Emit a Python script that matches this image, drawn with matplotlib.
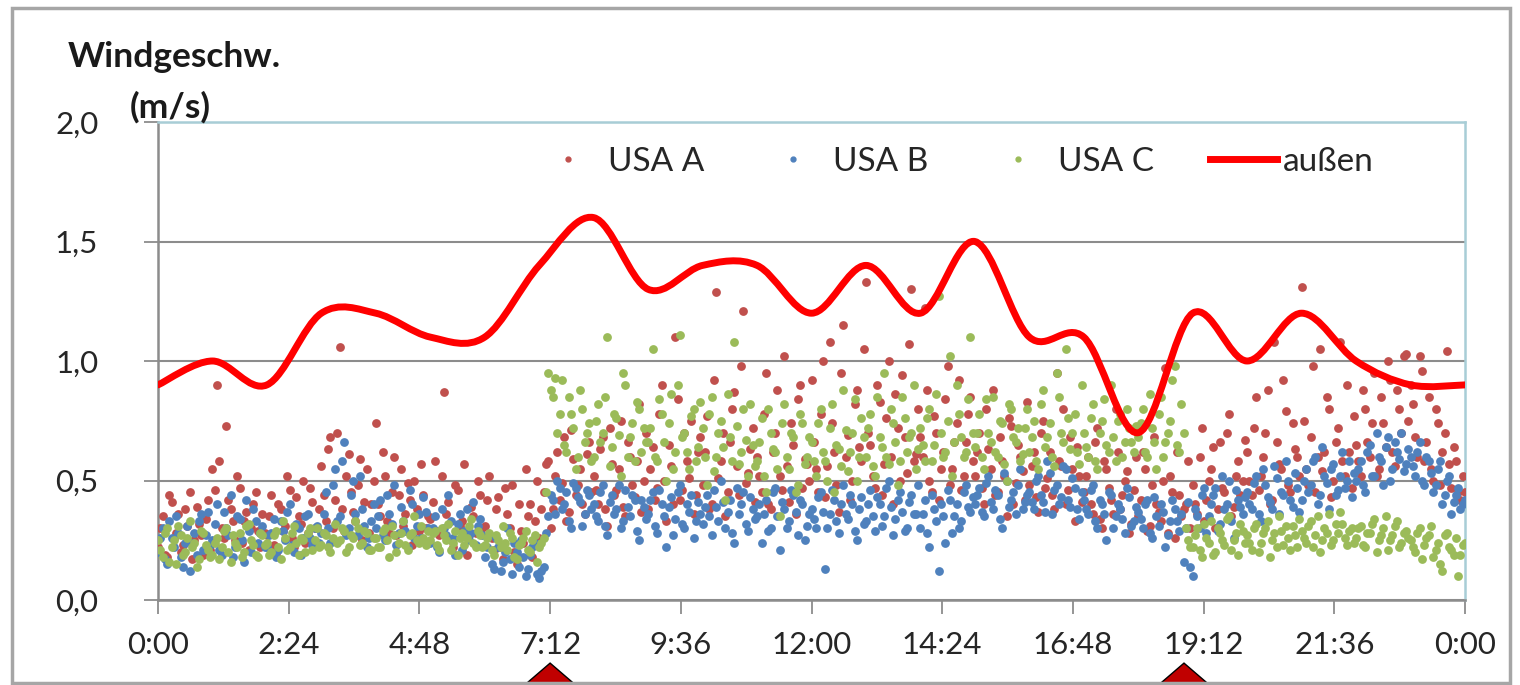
import numpy as np
import matplotlib
matplotlib.use("Agg")
import matplotlib.pyplot as plt
from matplotlib.path import Path
from matplotlib.patches import PathPatch, Polygon, Rectangle
from matplotlib.lines import Line2D

plt.rcParams["font.family"] = ["Lato", "DejaVu Sans"]

# 5-minute samples, 0:00 .. 24:00 (one row per hour)
usa_a = [
    0.22, 0.35, 0.18, 0.41, 0.28, 0.20, 0.38, 0.45, 0.25, 0.32, 0.19, 0.42,
    0.55, 0.90, 0.30, 0.73, 0.38, 0.25, 0.47, 0.33, 0.21, 0.40, 0.29, 0.36,
    0.27, 0.44, 0.19, 0.38, 0.31, 0.46, 0.22, 0.35, 0.50, 0.28, 0.41, 0.24,
    0.56, 0.33, 0.68, 0.42, 1.06, 0.29, 0.61, 0.37, 0.48, 0.25, 0.55, 0.40,
    0.74, 0.35, 0.52, 0.28, 0.60, 0.44, 0.31, 0.49, 0.23, 0.38, 0.57, 0.30,
    0.34, 0.58, 0.27, 0.87, 0.41, 0.22, 0.46, 0.33, 0.19, 0.39, 0.28, 0.44,
    0.31, 0.52, 0.21, 0.43, 0.17, 0.36, 0.48, 0.15, 0.29, 0.55, 0.40, 0.33,
    0.26, 0.45, 0.58, 0.38, 0.62, 0.49, 0.33, 0.71, 0.44, 0.55, 0.36, 0.66,
    0.52, 0.40, 0.68, 0.31, 0.57, 0.46, 0.75, 0.35, 0.60, 0.43, 0.82, 0.50,
    0.38, 0.64, 0.47, 0.90, 0.33, 0.56, 1.10, 0.42, 0.70, 0.51, 0.36, 0.62,
    0.48, 0.77, 0.40, 1.29, 0.58, 0.35, 0.66, 0.87, 0.44, 1.21, 0.53, 0.72,
    0.60, 0.45, 0.95, 0.38, 0.70, 0.52, 1.02, 0.41, 0.65, 0.84, 0.47, 0.57,
    0.92, 0.55, 0.78, 0.43, 1.08, 0.62, 0.37, 1.15, 0.69, 0.50, 0.88, 0.58,
    1.33, 0.65, 0.47, 0.83, 0.57, 1.00, 0.40, 0.72, 0.94, 0.53, 1.30, 0.61,
    0.68, 1.22, 0.50, 0.77, 0.42, 0.62, 0.98, 0.55, 0.74, 0.46, 0.66, 0.85,
    0.52, 0.70, 0.40, 0.63, 0.88, 0.45, 0.58, 0.35, 0.73, 0.49, 0.60, 0.42,
    0.48, 0.62, 0.37, 0.75, 0.51, 0.44, 0.95, 0.56, 0.40, 0.68, 0.33, 0.52,
    0.45, 0.60, 0.36, 0.72, 0.30, 0.55, 0.42, 0.80, 0.38, 0.50, 0.28, 0.46,
    0.35, 0.62, 0.29, 0.48, 0.40, 0.33, 0.97, 0.52, 0.26, 0.44, 0.38, 0.58,
    0.48, 0.36, 0.72, 0.42, 0.55, 0.30, 0.66, 0.45, 0.78, 0.39, 0.58, 0.50,
    0.62, 0.44, 0.85, 0.52, 0.70, 0.40, 1.08, 0.57, 0.92, 0.48, 0.74, 0.60,
    1.31, 0.55, 0.68, 0.45, 1.05, 0.62, 0.80, 0.50, 0.72, 0.58, 0.90, 0.47,
    0.65, 0.52, 0.80, 0.60, 0.95, 0.55, 0.74, 1.00, 0.62, 0.88, 0.70, 1.03,
    0.90, 0.68, 1.02, 0.58, 0.85, 0.50, 0.74, 0.62, 1.04, 0.47, 0.58, 0.42,
    0.45,
]
usa_b = [
    0.20, 0.30, 0.15, 0.26, 0.35, 0.18, 0.24, 0.12, 0.28, 0.33, 0.21, 0.37,
    0.25, 0.40, 0.19, 0.30, 0.44, 0.22, 0.34, 0.16, 0.29, 0.38, 0.24, 0.31,
    0.22, 0.28, 0.18, 0.33, 0.25, 0.40, 0.20, 0.30, 0.26, 0.36, 0.23, 0.31,
    0.28, 0.45, 0.24, 0.55, 0.35, 0.66, 0.30, 0.50, 0.27, 0.38, 0.22, 0.33,
    0.30, 0.42, 0.25, 0.36, 0.48, 0.28, 0.33, 0.22, 0.40, 0.31, 0.26, 0.37,
    0.24, 0.35, 0.20, 0.30, 0.44, 0.26, 0.32, 0.21, 0.38, 0.28, 0.23, 0.34,
    0.18, 0.27, 0.13, 0.22, 0.16, 0.30, 0.11, 0.20, 0.25, 0.10, 0.19, 0.24,
    0.09, 0.14, 0.35, 0.42, 0.50, 0.38, 0.45, 0.30, 0.47, 0.41, 0.36, 0.44,
    0.40, 0.33, 0.48, 0.27, 0.44, 0.38, 0.30, 0.46, 0.35, 0.42, 0.25, 0.39,
    0.36, 0.45, 0.28, 0.40, 0.22, 0.43, 0.34, 0.48, 0.30, 0.37, 0.26, 0.41,
    0.32, 0.44, 0.27, 0.39, 0.50, 0.30, 0.42, 0.24, 0.36, 0.45, 0.29, 0.38,
    0.35, 0.24, 0.42, 0.30, 0.47, 0.21, 0.38, 0.33, 0.44, 0.27, 0.40, 0.31,
    0.38, 0.30, 0.45, 0.13, 0.36, 0.42, 0.28, 0.48, 0.34, 0.40, 0.25, 0.43,
    0.33, 0.46, 0.29, 0.40, 0.35, 0.50, 0.27, 0.42, 0.37, 0.30, 0.44, 0.36,
    0.30, 0.42, 0.22, 0.38, 0.12, 0.35, 0.46, 0.28, 0.40, 0.33, 0.48, 0.37,
    0.40, 0.47, 0.35, 0.52, 0.38, 0.44, 0.30, 0.50, 0.42, 0.36, 0.55, 0.41,
    0.45, 0.38, 0.52, 0.41, 0.58, 0.36, 0.48, 0.43, 0.55, 0.39, 0.47, 0.34,
    0.42, 0.36, 0.48, 0.30, 0.40, 0.25, 0.44, 0.35, 0.38, 0.28, 0.43, 0.33,
    0.37, 0.30, 0.42, 0.26, 0.35, 0.40, 0.22, 0.33, 0.38, 0.29, 0.16, 0.41,
    0.10, 0.35, 0.44, 0.28, 0.40, 0.47, 0.32, 0.38, 0.50, 0.26, 0.42, 0.36,
    0.45, 0.38, 0.52, 0.33, 0.48, 0.41, 0.56, 0.36, 0.44, 0.50, 0.39, 0.47,
    0.42, 0.55, 0.48, 0.60, 0.44, 0.52, 0.38, 0.57, 0.46, 0.62, 0.50, 0.43,
    0.50, 0.58, 0.45, 0.65, 0.52, 0.60, 0.48, 0.68, 0.55, 0.62, 0.70, 0.57,
    0.60, 0.52, 0.66, 0.48, 0.58, 0.45, 0.55, 0.40, 0.50, 0.36, 0.44, 0.38,
    0.42,
]
usa_c = [
    0.25, 0.18, 0.30, 0.22, 0.15, 0.27, 0.20, 0.33, 0.24, 0.17, 0.28, 0.21,
    0.19, 0.26, 0.22, 0.30, 0.16, 0.24, 0.28, 0.20, 0.32, 0.23, 0.18, 0.27,
    0.24, 0.20, 0.29, 0.17, 0.26, 0.22, 0.31, 0.19, 0.25, 0.28, 0.21, 0.30,
    0.23, 0.27, 0.20, 0.32, 0.25, 0.29, 0.22, 0.26, 0.30, 0.24, 0.28, 0.21,
    0.26, 0.22, 0.30, 0.18, 0.27, 0.24, 0.33, 0.21, 0.28, 0.25, 0.31, 0.23,
    0.25, 0.29, 0.21, 0.27, 0.32, 0.24, 0.19, 0.28, 0.26, 0.34, 0.22, 0.27,
    0.23, 0.28, 0.19, 0.25, 0.31, 0.21, 0.26, 0.17, 0.24, 0.29, 0.20, 0.27,
    0.22, 0.26, 0.95, 0.85, 0.70, 0.92, 0.62, 0.78, 0.55, 0.88, 0.66, 0.74,
    0.60, 0.82, 0.70, 1.10, 0.64, 0.76, 0.52, 0.90, 0.68, 0.58, 0.80, 0.72,
    0.66, 1.05, 0.58, 0.78, 0.50, 0.86, 0.62, 1.11, 0.70, 0.55, 0.80, 0.64,
    0.72, 0.48, 0.85, 0.60, 0.75, 0.42, 0.68, 1.08, 0.57, 0.80, 0.52, 0.65,
    0.58, 0.76, 0.45, 0.70, 0.62, 0.35, 0.82, 0.55, 0.68, 0.48, 0.74, 0.60,
    0.66, 0.52, 0.80, 0.58, 0.72, 0.45, 0.63, 0.88, 0.54, 0.70, 0.50, 0.76,
    0.60, 0.78, 0.52, 0.68, 0.95, 0.57, 0.74, 0.48, 0.85, 0.62, 0.70, 0.55,
    0.72, 0.58, 0.80, 0.65, 1.27, 0.60, 0.75, 0.52, 0.90, 0.68, 0.62, 1.10,
    0.64, 0.78, 0.55, 0.70, 0.85, 0.60, 0.74, 0.50, 0.80, 0.66, 0.58, 0.72,
    0.62, 0.75, 0.55, 0.88, 0.68, 0.60, 0.95, 0.70, 1.05, 0.63, 0.78, 0.57,
    0.70, 0.60, 0.82, 0.55, 0.75, 0.65, 0.90, 0.58, 0.78, 0.66, 0.72, 0.62,
    0.68, 0.80, 0.60, 0.72, 0.55, 0.85, 0.66, 0.75, 0.98, 0.62, 0.70, 0.25,
    0.22, 0.30, 0.18, 0.26, 0.33, 0.20, 0.28, 0.23, 0.35, 0.25, 0.19, 0.29,
    0.27, 0.21, 0.32, 0.24, 0.30, 0.18, 0.28, 0.35, 0.23, 0.26, 0.31, 0.22,
    0.29, 0.24, 0.33, 0.27, 0.20, 0.30, 0.36, 0.25, 0.28, 0.32, 0.23, 0.30,
    0.26, 0.31, 0.22, 0.28, 0.34, 0.25, 0.30, 0.21, 0.27, 0.33, 0.24, 0.29,
    0.25, 0.20, 0.30, 0.23, 0.27, 0.18, 0.24, 0.12, 0.28, 0.21, 0.26, 0.19,
    0.24,
]
# samples in between (x:02.5, x:07.5, ...)
usa_a2 = [
    0.30, 0.19, 0.44, 0.26, 0.36, 0.23, 0.31, 0.17, 0.39, 0.27, 0.34, 0.21,
    0.46, 0.58, 0.26, 0.42, 0.33, 0.52, 0.24, 0.37, 0.30, 0.45, 0.22, 0.28,
    0.35, 0.23, 0.40, 0.29, 0.52, 0.26, 0.43, 0.32, 0.24, 0.47, 0.30, 0.38,
    0.44, 0.63, 0.30, 0.70, 0.38, 0.52, 0.45, 0.33, 0.59, 0.41, 0.28, 0.50,
    0.40, 0.62, 0.33, 0.45, 0.27, 0.55, 0.36, 0.42, 0.50, 0.29, 0.44, 0.35,
    0.41, 0.29, 0.52, 0.36, 0.25, 0.48, 0.31, 0.57, 0.27, 0.35, 0.50, 0.30,
    0.42, 0.26, 0.38, 0.22, 0.47, 0.30, 0.20, 0.40, 0.24, 0.35, 0.18, 0.50,
    0.38, 0.57, 0.30, 0.52, 0.42, 0.68, 0.37, 0.59, 0.48, 0.40, 0.61, 0.45,
    0.46, 0.63, 0.38, 0.72, 0.44, 0.55, 0.39, 0.66, 0.48, 0.58, 0.37, 0.70,
    0.55, 0.42, 0.78, 0.50, 0.65, 0.40, 0.84, 0.46, 0.58, 0.75, 0.44, 0.68,
    0.62, 0.38, 0.92, 0.51, 0.70, 0.45, 0.80, 0.56, 0.98, 0.49, 0.63, 0.41,
    0.52, 0.78, 0.40, 0.62, 0.88, 0.46, 0.56, 0.74, 0.36, 0.90, 0.59, 0.50,
    0.66, 0.45, 1.00, 0.56, 0.74, 0.48, 0.95, 0.60, 0.42, 0.82, 0.64, 1.05,
    0.70, 0.52, 0.90, 0.44, 0.76, 0.60, 0.86, 0.50, 0.68, 1.07, 0.58, 0.80,
    0.60, 0.88, 0.45, 0.70, 0.55, 0.84, 0.48, 0.66, 0.92, 0.52, 0.78, 0.58,
    0.62, 0.47, 0.80, 0.55, 0.44, 0.68, 0.52, 0.76, 0.40, 0.65, 0.54, 0.83,
    0.56, 0.43, 0.70, 0.47, 0.62, 0.38, 0.58, 0.80, 0.46, 0.55, 0.64, 0.41,
    0.52, 0.40, 0.66, 0.34, 0.58, 0.47, 0.36, 0.62, 0.44, 0.54, 0.32, 0.60,
    0.42, 0.55, 0.31, 0.68, 0.37, 0.50, 0.28, 0.45, 0.62, 0.35, 0.40, 0.30,
    0.40, 0.60, 0.33, 0.50, 0.64, 0.38, 0.47, 0.70, 0.35, 0.52, 0.44, 0.67,
    0.50, 0.72, 0.46, 0.60, 0.88, 0.42, 0.66, 0.55, 0.79, 0.45, 0.63, 0.52,
    0.75, 0.48, 0.98, 0.60, 0.54, 0.85, 0.43, 0.66, 1.08, 0.52, 0.62, 0.77,
    0.58, 0.88, 0.66, 0.74, 0.52, 0.85, 0.64, 0.92, 0.56, 0.80, 1.02, 0.75,
    0.82, 0.60, 0.96, 0.66, 0.55, 0.80, 0.48, 0.70, 0.57, 0.64, 0.45, 0.52,
]
usa_b2 = [
    0.26, 0.17, 0.33, 0.22, 0.28, 0.14, 0.31, 0.24, 0.19, 0.36, 0.27, 0.23,
    0.32, 0.21, 0.37, 0.27, 0.18, 0.35, 0.25, 0.42, 0.20, 0.33, 0.28, 0.22,
    0.27, 0.34, 0.21, 0.29, 0.37, 0.23, 0.32, 0.19, 0.35, 0.26, 0.30, 0.24,
    0.36, 0.30, 0.48, 0.33, 0.58, 0.27, 0.44, 0.36, 0.52, 0.31, 0.26, 0.40,
    0.35, 0.27, 0.44, 0.32, 0.23, 0.39, 0.29, 0.46, 0.26, 0.36, 0.43, 0.30,
    0.30, 0.22, 0.38, 0.27, 0.33, 0.19, 0.36, 0.29, 0.25, 0.41, 0.31, 0.27,
    0.22, 0.15, 0.26, 0.12, 0.20, 0.17, 0.24, 0.14, 0.18, 0.13, 0.22, 0.11,
    0.12, 0.28, 0.44, 0.36, 0.47, 0.40, 0.33, 0.49, 0.43, 0.31, 0.46, 0.38,
    0.35, 0.45, 0.31, 0.41, 0.36, 0.48, 0.33, 0.39, 0.44, 0.29, 0.42, 0.34,
    0.42, 0.31, 0.46, 0.35, 0.39, 0.27, 0.45, 0.32, 0.40, 0.44, 0.33, 0.36,
    0.39, 0.35, 0.46, 0.33, 0.41, 0.37, 0.28, 0.47, 0.40, 0.32, 0.43, 0.34,
    0.40, 0.36, 0.29, 0.45, 0.35, 0.41, 0.30, 0.46, 0.37, 0.42, 0.25, 0.36,
    0.34, 0.43, 0.37, 0.30, 0.46, 0.33, 0.40, 0.36, 0.44, 0.29, 0.38, 0.32,
    0.40, 0.35, 0.43, 0.31, 0.47, 0.39, 0.34, 0.45, 0.29, 0.41, 0.36, 0.48,
    0.36, 0.28, 0.44, 0.33, 0.40, 0.24, 0.42, 0.35, 0.30, 0.45, 0.39, 0.43,
    0.44, 0.37, 0.49, 0.41, 0.46, 0.34, 0.53, 0.39, 0.45, 0.48, 0.38, 0.44,
    0.41, 0.50, 0.44, 0.37, 0.53, 0.46, 0.40, 0.56, 0.42, 0.51, 0.38, 0.45,
    0.38, 0.46, 0.33, 0.42, 0.36, 0.45, 0.30, 0.40, 0.34, 0.47, 0.31, 0.39,
    0.34, 0.40, 0.28, 0.43, 0.31, 0.37, 0.27, 0.42, 0.33, 0.36, 0.30, 0.14,
    0.38, 0.30, 0.47, 0.35, 0.44, 0.29, 0.52, 0.40, 0.33, 0.46, 0.39, 0.43,
    0.40, 0.49, 0.36, 0.55, 0.43, 0.38, 0.51, 0.45, 0.58, 0.42, 0.53, 0.37,
    0.50, 0.45, 0.58, 0.40, 0.64, 0.49, 0.55, 0.44, 0.52, 0.47, 0.58, 0.53,
    0.55, 0.48, 0.62, 0.52, 0.70, 0.58, 0.64, 0.50, 0.66, 0.59, 0.54, 0.63,
    0.56, 0.62, 0.50, 0.60, 0.53, 0.48, 0.58, 0.44, 0.52, 0.41, 0.47, 0.40,
]
usa_c2 = [
    0.21, 0.28, 0.16, 0.25, 0.31, 0.19, 0.26, 0.22, 0.14, 0.29, 0.23, 0.18,
    0.24, 0.17, 0.29, 0.20, 0.27, 0.22, 0.18, 0.31, 0.25, 0.19, 0.28, 0.23,
    0.19, 0.27, 0.22, 0.33, 0.21, 0.28, 0.24, 0.26, 0.20, 0.30, 0.25, 0.22,
    0.28, 0.22, 0.26, 0.24, 0.30, 0.20, 0.27, 0.33, 0.23, 0.29, 0.21, 0.26,
    0.22, 0.29, 0.25, 0.31, 0.20, 0.28, 0.23, 0.27, 0.35, 0.24, 0.26, 0.29,
    0.28, 0.23, 0.30, 0.25, 0.21, 0.29, 0.26, 0.23, 0.31, 0.24, 0.29, 0.22,
    0.26, 0.21, 0.27, 0.22, 0.24, 0.28, 0.18, 0.23, 0.26, 0.21, 0.25, 0.16,
    0.24, 0.45, 0.88, 0.93, 0.78, 0.65, 0.85, 0.72, 0.60, 0.80, 0.70, 0.58,
    0.75, 0.66, 0.85, 0.56, 0.78, 0.69, 0.95, 0.60, 0.74, 0.83, 0.62, 0.66,
    0.72, 0.60, 0.84, 0.66, 0.74, 0.55, 0.90, 0.68, 0.62, 0.77, 0.58, 0.83,
    0.60, 0.78, 0.54, 0.70, 0.64, 0.86, 0.58, 0.73, 0.62, 0.67, 0.82, 0.56,
    0.66, 0.52, 0.80, 0.63, 0.55, 0.74, 0.60, 0.70, 0.45, 0.78, 0.57, 0.68,
    0.58, 0.74, 0.62, 0.50, 0.82, 0.65, 0.56, 0.71, 0.62, 0.84, 0.60, 0.68,
    0.72, 0.56, 0.85, 0.64, 0.60, 0.80, 0.66, 0.58, 0.76, 0.68, 0.90, 0.63,
    0.65, 0.76, 0.58, 0.86, 0.70, 0.62, 1.02, 0.66, 0.78, 0.60, 0.84, 0.70,
    0.70, 0.60, 0.84, 0.66, 0.62, 0.75, 0.57, 0.82, 0.68, 0.72, 0.61, 0.80,
    0.68, 0.58, 0.82, 0.64, 0.74, 0.56, 0.85, 0.66, 0.76, 0.70, 0.62, 0.90,
    0.64, 0.76, 0.58, 0.70, 0.84, 0.62, 0.68, 0.75, 0.60, 0.80, 0.66, 0.73,
    0.74, 0.62, 0.86, 0.66, 0.78, 0.60, 0.70, 0.92, 0.65, 0.82, 0.30, 0.22,
    0.27, 0.21, 0.32, 0.24, 0.19, 0.30, 0.25, 0.34, 0.21, 0.28, 0.32, 0.24,
    0.24, 0.30, 0.20, 0.28, 0.33, 0.25, 0.22, 0.29, 0.31, 0.21, 0.27, 0.34,
    0.26, 0.31, 0.22, 0.35, 0.25, 0.28, 0.23, 0.32, 0.37, 0.26, 0.29, 0.24,
    0.30, 0.23, 0.28, 0.32, 0.20, 0.27, 0.35, 0.25, 0.31, 0.22, 0.28, 0.26,
    0.22, 0.28, 0.17, 0.26, 0.31, 0.21, 0.15, 0.27, 0.22, 0.19, 0.10, 0.23,
]
# outdoor wind speed, hourly
aussen_h = list(range(25))
aussen = [0.9, 1.0, 0.9, 1.2, 1.2, 1.1, 1.1, 1.4, 1.6, 1.3, 1.4, 1.4, 1.2,
          1.4, 1.2, 1.5, 1.1, 1.1, 0.7, 1.2, 1.0, 1.2, 1.0, 0.9, 0.9]

xtick_pos = [0, 2.4, 4.8, 7.2, 9.6, 12, 14.4, 16.8, 19.2, 21.6, 24]
xtick_lbl = ["0:00", "2:24", "4:48", "7:12", "9:36", "12:00", "14:24",
             "16:48", "19:12", "21:36", "0:00"]
ytick_pos = [0.0, 0.5, 1.0, 1.5, 2.0]
ytick_lbl = ["0,0", "0,5", "1,0", "1,5", "2,0"]
marks_h = [7.2, 18.84]

t = np.arange(len(usa_a)) * 5 / 60.0
t2 = np.arange(len(usa_a2)) * 5 / 60.0 + 2.5 / 60.0

fig = plt.figure(figsize=(15.2, 6.85), dpi=100)
ax = fig.add_axes([158/1520, 85/685, 1307/1520, 478/685])

for v1, v2, col in [(usa_a, usa_a2, "#c0504d"), (usa_b, usa_b2, "#4f81bd"),
                    (usa_c, usa_c2, "#9bbb59")]:
    ax.scatter(t, v1, s=40, color=col, linewidths=0, zorder=3)
    ax.scatter(t2, v2, s=40, color=col, linewidths=0, zorder=3)

# smoothed line like Excel (cardinal spline as bezier path)
P = np.column_stack([aussen_h, aussen]).astype(float)
Pe = np.vstack([P[0], P, P[-1]])
verts = [P[0]]
codes = [Path.MOVETO]
for i in range(len(P) - 1):
    c1 = Pe[i+1] + (Pe[i+2] - Pe[i]) / 6
    c2 = Pe[i+2] - (Pe[i+3] - Pe[i+1]) / 6
    verts += [c1, c2, Pe[i+2]]
    codes += [Path.CURVE4] * 3
ax.add_patch(PathPatch(Path(verts, codes), facecolor="none", edgecolor="#ff0000",
                       lw=5, capstyle="round", joinstyle="round", zorder=4))

ax.set_xlim(0, 24)
ax.set_ylim(0, 2.0)
ax.set_xticks(xtick_pos)
ax.set_xticklabels(xtick_lbl)
ax.set_yticks(ytick_pos)
ax.set_yticklabels(ytick_lbl)
ax.tick_params(labelsize=22.5, labelcolor="#262626")
ax.tick_params(axis="both", length=10, width=1.3, color="#8c8c8c", direction="out")
ax.tick_params(axis="y", pad=33)
ax.tick_params(axis="x", pad=12)
ax.yaxis.grid(True, color="#8c8c8c", lw=1.5)
ax.set_axisbelow(True)
for s in ["left", "bottom"]:
    ax.spines[s].set_color("#8c8c8c")
    ax.spines[s].set_linewidth(1.8)
for s in ["top", "right"]:
    ax.spines[s].set_color("#a8cdd6")
    ax.spines[s].set_linewidth(1.8)

handles = [
    Line2D([], [], ls="none", marker="o", ms=3.5, color="#c0504d"),
    Line2D([], [], ls="none", marker="o", ms=3.5, color="#4f81bd"),
    Line2D([], [], ls="none", marker="o", ms=3.5, color="#9bbb59"),
    Line2D([], [], color="#ff0000", lw=5),
]
ax.legend(handles, ["USA A", "USA B", "USA C", "außen"], ncol=4, frameon=False,
          loc="center left", bbox_to_anchor=(0.2777, 0.916), borderaxespad=0,
          fontsize=24, labelcolor="#262626",
          handlelength=2.0, columnspacing=1.68, handletextpad=0.2)

fig.text(68/1520, 1 - 57/685, "Windgeschw.", fontsize=25.5, fontweight="bold",
         va="center", ha="left", color="#1a1a1a")
fig.text(130/1520, 1 - 107/685, "(m/s)", fontsize=25.5, fontweight="bold",
         va="center", ha="left", color="#1a1a1a")

# outer frame
fig.patches.append(Rectangle((12/1520, 2/685), 1498/1520, 675/685, transform=fig.transFigure,
                             facecolor="none", edgecolor="#a6a6a6", lw=2.5))

# markers below the axis
tr = ax.get_xaxis_transform()
for m in marks_h:
    tri = Polygon([[m, -0.132], [m - 1.0, -0.23], [m + 1.0, -0.23]], closed=True,
                  transform=tr, clip_on=False, facecolor="#c00000", edgecolor="black",
                  lw=1, zorder=10)
    ax.add_patch(tri)

fig.savefig("out.png", dpi=100)
